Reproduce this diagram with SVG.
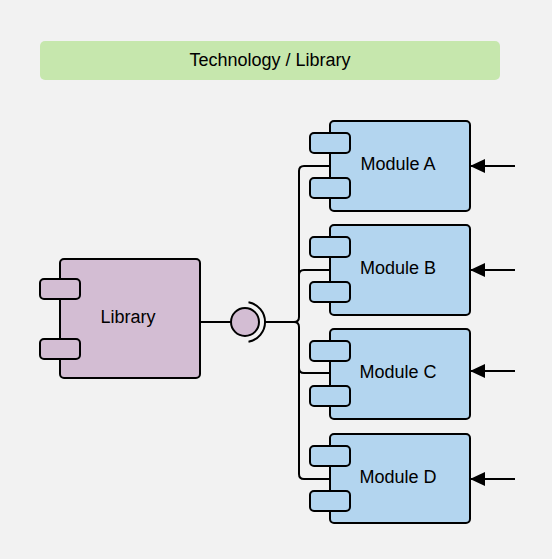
<svg xmlns="http://www.w3.org/2000/svg" width="552" height="559" viewBox="0 0 552 559">
<style>
text{font-family:"Liberation Sans",Arial,sans-serif;font-size:18px;fill:#000;text-anchor:middle;dominant-baseline:central}
.lib{fill:#d3bdd3;stroke:#000;stroke-width:2}
.mod{fill:#b3d5ef;stroke:#000;stroke-width:2}
.ln{fill:none;stroke:#000;stroke-width:2}
</style>
<defs>
<marker id="ah" markerWidth="16" markerHeight="14" refX="15" refY="7" orient="auto" markerUnits="userSpaceOnUse">
<path d="M0,0 L15,7 L0,14 Z" fill="#000"/>
</marker>
</defs>
<rect width="552" height="559" fill="#f2f2f2"/>
<g id="title">
<rect x="40" y="41" width="460" height="39" rx="5" fill="#c6e7ad"/>
<text x="270" y="60">Technology / Library</text>
</g>
<g id="connectors">
<line class="ln" x1="200" y1="322" x2="231" y2="322"/>
<line class="ln" x1="265" y1="322" x2="296" y2="322"/>
<path class="ln" d="M294,322 Q299,322 299,317 L299,171 Q299,166 304,166 L330,166"/>
<path class="ln" d="M294,322 Q299,322 299,327 L299,474 Q299,479 304,479 L330,479"/>
<path class="ln" d="M299,275 Q299,270 304,270 L330,270"/>
<path class="ln" d="M299,368 Q299,373 304,373 L330,373"/>
<line class="ln" x1="515" y1="166" x2="470" y2="166" marker-end="url(#ah)"/>
<line class="ln" x1="515" y1="270" x2="470" y2="270" marker-end="url(#ah)"/>
<line class="ln" x1="515" y1="371" x2="470" y2="371" marker-end="url(#ah)"/>
<line class="ln" x1="515" y1="479" x2="470" y2="479" marker-end="url(#ah)"/>
</g>
<g id="interface">
<circle class="lib" cx="245" cy="322" r="14"/>
<path class="ln" d="M248.5,302.3 A20,20 0 0 1 248.5,341.7"/>
</g>
<g id="library">
<rect class="lib" x="60" y="259" width="140" height="119" rx="4"/>
<rect class="lib" x="40" y="279" width="40" height="20" rx="4"/>
<rect class="lib" x="40" y="339" width="40" height="20" rx="4"/>
<text x="128" y="317">Library</text>
</g>
<g id="moduleA">
<rect class="mod" x="330" y="121" width="140" height="90" rx="4"/>
<rect class="mod" x="310" y="133" width="40" height="20" rx="4"/>
<rect class="mod" x="310" y="178" width="40" height="20" rx="4"/>
<text x="398" y="164">Module A</text>
</g>
<g id="moduleB">
<rect class="mod" x="330" y="225" width="140" height="90" rx="4"/>
<rect class="mod" x="310" y="237" width="40" height="20" rx="4"/>
<rect class="mod" x="310" y="282" width="40" height="20" rx="4"/>
<text x="398" y="268">Module B</text>
</g>
<g id="moduleC">
<rect class="mod" x="330" y="329" width="140" height="90" rx="4"/>
<rect class="mod" x="310" y="341" width="40" height="20" rx="4"/>
<rect class="mod" x="310" y="386" width="40" height="20" rx="4"/>
<text x="398" y="372">Module C</text>
</g>
<g id="moduleD">
<rect class="mod" x="330" y="434" width="140" height="89" rx="4"/>
<rect class="mod" x="310" y="446" width="40" height="20" rx="4"/>
<rect class="mod" x="310" y="491" width="40" height="20" rx="4"/>
<text x="398" y="477">Module D</text>
</g>
</svg>
